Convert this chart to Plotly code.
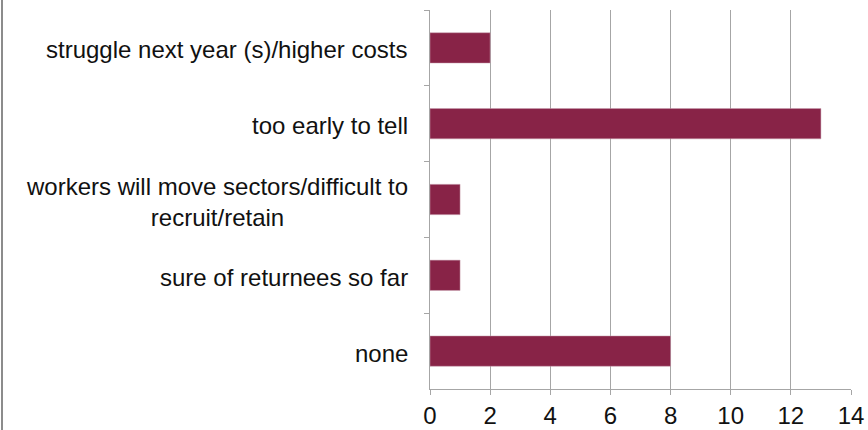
import plotly.graph_objs as go

# answers and how many respondents gave each one
categories = [
    "struggle next year (s)/higher costs",
    "too early to tell",
    "workers will move sectors/difficult to<br>recruit/retain",
    "sure of returnees so far",
    "none",
]
counts = [2, 13, 1, 1, 8]
x_ticks = [0, 2, 4, 6, 8, 10, 12, 14]

W, H = 868, 430
left, right, top, bottom = 430, 17, 10, 41
grey = "#a6a6a6"
font = dict(family="Liberation Sans, Arial, sans-serif", size=24, color="#111111")

bars = go.Bar(
    x=counts, y=categories, orientation="h",
    marker=dict(color="#882347", line=dict(color="#c9a0b0", width=0.5)),
    hoverinfo="x+y",
)

# category labels as annotations so the wrapped one is centred like the original
labels = [
    dict(x=0, xref="paper", y=c, yref="y", text=c, showarrow=False,
         xanchor="right", yanchor="middle", align="center", xshift=-20, yshift=-2,
         font=font)
    for c in categories
]

layout = go.Layout(
    width=W, height=H,
    margin=dict(l=left, r=right, t=top, b=bottom, autoexpand=False),
    paper_bgcolor="white", plot_bgcolor="white",
    font=font,
    bargap=0.6,
    showlegend=False,
    xaxis=dict(
        range=[0, 14], tickvals=x_ticks, showgrid=True, gridcolor=grey, gridwidth=1,
        showline=True, linecolor=grey, linewidth=1, ticks="outside", ticklen=5,
        tickcolor=grey, zeroline=False, tickfont=font, automargin=False,
    ),
    yaxis=dict(
        autorange="reversed", showticklabels=False, showline=True, linecolor=grey,
        linewidth=1, ticks="outside", ticklen=5, tickcolor=grey, tickson="boundaries",
        showgrid=False, zeroline=False, automargin=False,
    ),
    annotations=labels,
    shapes=[dict(type="line", xref="paper", yref="paper",
                 x0=(2 - left) / (W - left - right), x1=(2 - left) / (W - left - right),
                 y0=-bottom / (H - top - bottom), y1=1 + top / (H - top - bottom),
                 line=dict(color="#8c8c8c", width=2))],
)

fig = go.Figure(data=[bars], layout=layout)
# drop the browser's default page margin so the chart sits at the window's corner
fig.write_html("out.html", config={"displayModeBar": False},
               post_script="document.body.style.margin = '0';")
